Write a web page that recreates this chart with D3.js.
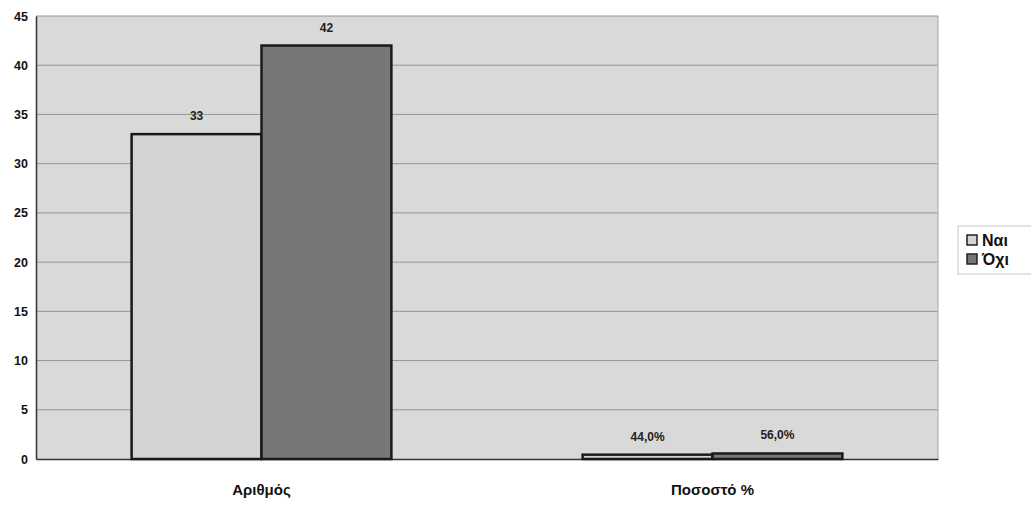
<!DOCTYPE html>
<html><head><meta charset="utf-8">
<script src="https://cdn.jsdelivr.net/npm/d3@7"></script>
<style>body{margin:0;background:#fff;}svg{display:block;font-family:"Liberation Sans",Arial,sans-serif;}</style>
</head><body><svg id="c" width="1031" height="505"></svg>
<script>
const categories = ["Αριθμός", "Ποσοστό %"];
const seriesNames = ["Ναι", "Όχι"];
const valuesNai = [33, 0.44];
const valuesOxi = [42, 0.56];
const labelsNai = ["33", "44,0%"];
const labelsOxi = ["42", "56,0%"];
const yTicks = [0, 5, 10, 15, 20, 25, 30, 35, 40, 45];
const colors = ["#d3d3d3", "#777777"];

const svg = d3.select("#c");
const m = {l: 36, r: 93, t: 16, b: 46};
const W = 1031 - m.l - m.r, H = 505 - m.t - m.b;
const g = svg.append("g").attr("transform", `translate(${m.l},${m.t})`);

const x0 = d3.scaleBand().domain(categories).range([0, W]).paddingInner(0).paddingOuter(0);
const x1 = d3.scaleBand().domain(seriesNames).range([x0.bandwidth()*0.212, x0.bandwidth()*0.788]);
const y = d3.scaleLinear().domain([0, 45]).range([H, 0]);

g.append("rect").attr("width", W).attr("height", H).attr("fill", "#d9d9d9");

g.selectAll(".grid").data(yTicks.filter(d => d > 0)).enter().append("line")
  .attr("x1", 0).attr("x2", W).attr("y1", d => y(d)).attr("y2", d => y(d))
  .attr("stroke", "#959595").attr("stroke-width", 1);
g.append("line").attr("x1", W).attr("x2", W).attr("y1", 0).attr("y2", H).attr("stroke", "#a5a5a5");

const yAxis = g.append("g").call(d3.axisLeft(y).tickValues(yTicks).tickSize(0).tickPadding(8));
yAxis.select(".domain").attr("stroke", "#333").attr("stroke-width", 1.5);
yAxis.selectAll("text").attr("font-size", 12.5).attr("font-weight", "bold").attr("fill", "#111")
  .attr("font-family", "Liberation Sans, Arial, sans-serif");

const xAxis = g.append("g").attr("transform", `translate(0,${H})`).call(d3.axisBottom(x0).tickSize(0).tickPadding(25));
xAxis.select(".domain").attr("stroke", "#333").attr("stroke-width", 1.5);
xAxis.selectAll("text").attr("font-size", 15).attr("font-weight", "bold").attr("fill", "#111")
  .attr("font-family", "Liberation Sans, Arial, sans-serif");

const rows = categories.map((c, i) => ({cat: c, vals: [
  {s: seriesNames[0], v: valuesNai[i], lab: labelsNai[i]},
  {s: seriesNames[1], v: valuesOxi[i], lab: labelsOxi[i]}]}));

const grp = g.selectAll(".grp").data(rows).enter().append("g")
  .attr("transform", d => `translate(${x0(d.cat)},0)`);
grp.selectAll("rect").data(d => d.vals).enter().append("rect")
  .attr("x", d => x1(d.s)).attr("width", x1.bandwidth())
  .attr("y", d => y(d.v)).attr("height", d => H - y(d.v))
  .attr("fill", (d, i) => colors[i]).attr("stroke", "#1a1a1a").attr("stroke-width", 2.5);
grp.selectAll("text").data(d => d.vals).enter().append("text")
  .attr("x", d => x1(d.s) + x1.bandwidth()/2).attr("y", d => y(d.v) - 14)
  .attr("text-anchor", "middle").attr("font-size", 12).attr("font-weight", "bold").attr("fill", "#222")
  .text(d => d.lab);

const lg = svg.append("g").attr("transform", "translate(958,226)");
lg.append("rect").attr("width", 80).attr("height", 48).attr("fill", "#fff").attr("stroke", "#c8c8c8");
seriesNames.forEach((s, i) => {
  lg.append("rect").attr("x", 9).attr("y", 9 + i*19).attr("width", 10).attr("height", 10)
    .attr("fill", colors[i]).attr("stroke", "#222").attr("stroke-width", 1.5);
  lg.append("text").attr("x", 24).attr("y", 20 + i*19).attr("font-size", 16).attr("font-weight", "bold")
    .attr("fill", "#111").text(s);
});
</script></body></html>
